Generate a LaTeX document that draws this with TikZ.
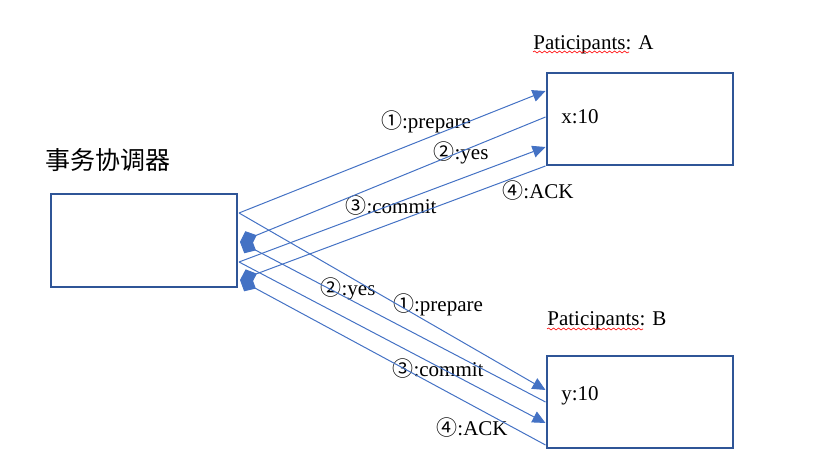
\documentclass[tikz,border=0pt]{standalone}
\usepackage{fontspec}
\setmainfont{Liberation Serif}
\newfontfamily\cjk{Noto Sans CJK SC}
\usetikzlibrary{arrows.meta, calc, decorations.pathmorphing}
\definecolor{boxblue}{HTML}{2F5597}
\definecolor{lineblue}{HTML}{4472C4}

\begin{document}
\begin{tikzpicture}[x=0.5pt, y=-0.5pt, font=\fontsize{10.5}{12}\selectfont]
\tikzstyle{party} = [rectangle, draw=boxblue, line width=1pt, minimum width=93pt, minimum height=46.5pt, inner sep=0pt]
\tikzstyle{msg} = [lineblue, line width=0.5pt, -{Triangle[length=6.5pt,width=6pt]}]
\tikzstyle{reply} = [lineblue, line width=0.5pt, -{Diamond[length=9pt,width=8pt]}]
\tikzstyle{msgtext} = [inner sep=0pt]
\tikzstyle{plain} = [anchor=base west, inner sep=0pt]
\tikzstyle{squiggle} = [red, line width=0.3pt, decorate, decoration={snake, amplitude=0.5pt, segment length=2.5pt}]

\useasboundingbox (0,0) rectangle (813,474);

%nodes
\node (coord) [party] at (144,240.5) {};
\node (pa) [party, minimum height=46pt] at (639.5,119) {};
\node (pb) [party, minimum height=46pt] at (639.5,402) {};
\node (title) at (107.5,160) [font={\fontsize{12.5}{14}\selectfont\cjk}] {事务协调器};
\node (namea) [plain] at (533,50) {Paticipants: A};
\node (nameb) [plain] at (547,326) {Paticipants: B};
\node (xval) [plain] at (561,124) {x:10};
\node (yval) [plain] at (561,401) {y:10};

%labels
\node (preparea) [msgtext] at (426,122) {{\cjk ①}:prepare};
\node (yesa) [msgtext] at (461,153) {{\cjk ②}:yes};
\node (commita) [msgtext] at (391,206) {{\cjk ③}:commit};
\node (acka) [msgtext] at (538,191) {{\cjk ④}:ACK};
\node (yesb) [msgtext] at (348,289) {{\cjk ②}:yes};
\node (prepareb) [msgtext] at (438,305) {{\cjk ①}:prepare};
\node (commitb) [msgtext] at (438,369) {{\cjk ③}:commit};
\node (ackb) [msgtext] at (472,428) {{\cjk ④}:ACK};

%spelling marks
\draw [squiggle] ($(namea.base west)+(0,2)$) -- +(96,0);
\draw [squiggle] ($(nameb.base west)+(0,3)$) -- +(96,0);

%arrows to A
\draw [msg] ($(coord.east)+(1,-27.5)$) -- ($(pa.west)+(0,-28)$);
\draw [reply] ($(pa.west)+(0,-2)$) -- ($(coord.east)+(2,1.5)$);
\draw [msg] ($(coord.east)+(1,21.5)$) -- ($(pa.west)+(0,28)$);
\draw [reply] (pa.south west) -- ($(coord.east)+(2,39.5)$);

%arrows to B
\draw [msg] ($(coord.east)+(1,-27.5)$) -- ($(pb.west)+(0,-12)$);
\draw [reply] (pb.west) -- ($(coord.east)+(2,1.5)$);
\draw [msg] ($(coord.east)+(1,21.5)$) -- ($(pb.west)+(0,21)$);
\draw [reply] ($(pb.west)+(0,43)$) -- ($(coord.east)+(2,39.5)$);
\end{tikzpicture}
\end{document}
